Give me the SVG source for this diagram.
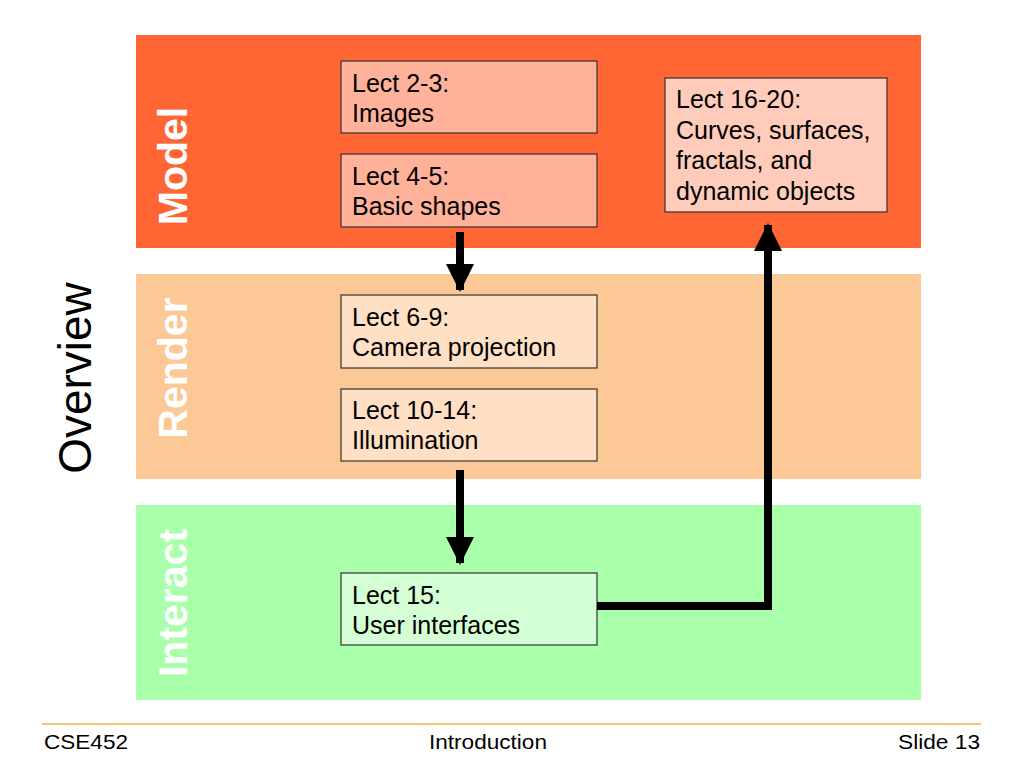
<svg xmlns="http://www.w3.org/2000/svg" width="1024" height="768" viewBox="0 0 1024 768">
<style>
.t{font-family:"Liberation Sans",Arial,sans-serif;font-size:25px;fill:#000}
.band{font-family:"Liberation Sans",Arial,sans-serif;font-size:41px;font-weight:bold;fill:#fff}
.nb{stroke:#333;stroke-width:1.2}
.f{font-family:"Liberation Sans",Arial,sans-serif;font-size:21px;fill:#000}
.c{fill:none;stroke:#000;stroke-width:8}
</style>
<defs>
<marker id="ah" markerUnits="userSpaceOnUse" markerWidth="28" markerHeight="30" refX="26" refY="14" orient="auto">
<path d="M0,0 L28,14 L0,28 Z" fill="#000"/>
</marker>
</defs>
<rect width="1024" height="768" fill="#fff"/>
<g id="bands">
<rect x="136" y="35" width="785" height="213" fill="#FF6633"/>
<rect x="136" y="274" width="785" height="205" fill="#FCC896"/>
<rect x="136" y="505" width="785" height="195" fill="#AAFFAA"/>
<text class="band" transform="translate(187,166) rotate(-90)" text-anchor="middle">Model</text>
<text class="band" transform="translate(187,368) rotate(-90)" text-anchor="middle">Render</text>
<text class="band" transform="translate(187,603) rotate(-90)" text-anchor="middle">Interact</text>
<text transform="translate(91,378) rotate(-90)" text-anchor="middle" font-family="Liberation Sans,Arial,sans-serif" font-size="46" fill="#000">Overview</text>
</g>
<g id="n1"><rect class="nb" x="341" y="61" width="256" height="72" fill="#FFB299"/><text class="t" x="352" y="92">Lect 2-3:</text><text class="t" x="352" y="122">Images</text></g>
<g id="n2"><rect class="nb" x="341" y="154" width="256" height="73" fill="#FFB299"/><text class="t" x="352" y="185">Lect 4-5:</text><text class="t" x="352" y="215">Basic shapes</text></g>
<g id="n3"><rect class="nb" x="665" y="78" width="222" height="134" fill="#FFCCBB"/><text class="t" x="676" y="108">Lect 16-20:</text><text class="t" x="676" y="139">Curves, surfaces,</text><text class="t" x="676" y="169">fractals, and</text><text class="t" x="676" y="200">dynamic objects</text></g>
<g id="n4"><rect class="nb" x="341" y="295" width="256" height="73" fill="#FFE0C4"/><text class="t" x="352" y="326">Lect 6-9:</text><text class="t" x="352" y="356">Camera projection</text></g>
<g id="n5"><rect class="nb" x="341" y="389" width="256" height="72" fill="#FFE0C4"/><text class="t" x="352" y="419">Lect 10-14:</text><text class="t" x="352" y="449">Illumination</text></g>
<g id="n6"><rect class="nb" x="341" y="573" width="256" height="72" fill="#D4FFD4"/><text class="t" x="352" y="604">Lect 15:</text><text class="t" x="352" y="634">User interfaces</text></g>
<g id="connectors">
<path class="c" d="M460,232 V290" marker-end="url(#ah)"/>
<path class="c" d="M460,470 V563" marker-end="url(#ah)"/>
<path class="c" d="M597,606 H768 V225" marker-end="url(#ah)"/>
</g>
<g id="footer">
<line x1="42" y1="724" x2="981" y2="724" stroke="#F0B040" stroke-width="1.5"/>
<text class="f" x="44" y="749" textLength="84" lengthAdjust="spacingAndGlyphs">CSE452</text>
<text class="f" x="488" y="749" text-anchor="middle" textLength="118" lengthAdjust="spacingAndGlyphs">Introduction</text>
<text class="f" x="980" y="749" text-anchor="end" textLength="82" lengthAdjust="spacingAndGlyphs">Slide 13</text>
</g>
</svg>
